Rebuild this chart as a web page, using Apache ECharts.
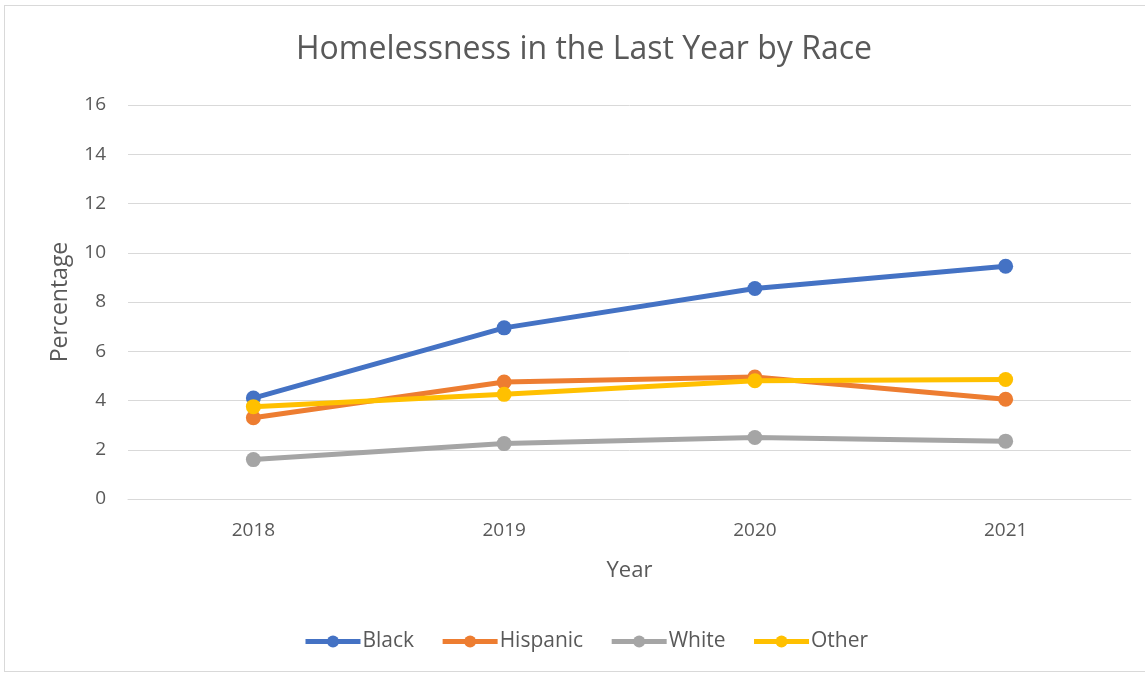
<!DOCTYPE html>
<html>
<head>
<meta charset="utf-8">
<script src="https://cdn.jsdelivr.net/npm/echarts@6/dist/echarts.min.js"></script>
<style>
  html, body { margin: 0; padding: 0; background: #fff; }
  #frame { position: absolute; left: 4px; top: 5px; width: 1150px; height: 667px; border: 1px solid #d9d9d9; box-sizing: border-box; }
  #chart { position: absolute; left: 0; top: 0; width: 1145px; height: 674px; }
</style>
</head>
<body>
<div id="frame"></div>
<div id="chart"></div>
<script>
const years = ['2018', '2019', '2020', '2021'];
const black = [4.1, 6.95, 8.55, 9.45];
const hispanic = [3.3, 4.75, 4.95, 4.05];
const white = [1.6, 2.25, 2.5, 2.35];
const other = [3.75, 4.25, 4.8, 4.85];
const yTicks = [0, 2, 4, 6, 8, 10, 12, 14, 16];

const font = 'Open Sans';
const txt = '#595959';

const chart = echarts.init(document.getElementById('chart'));

const mk = (name, data, color) => ({
  name: name,
  type: 'line',
  data: data,
  symbol: 'circle',
  symbolSize: 15,
  color: color,
  lineStyle: { width: 5, color: color },
  itemStyle: { color: color },
  emphasis: { disabled: true }
});

chart.setOption({
  animation: false,
  textStyle: { fontFamily: font },
  title: {
    text: 'Homelessness in the Last Year by Race',
    left: 291,
    top: 29,
    textStyle: { fontFamily: font, fontSize: 32, fontWeight: 'normal', color: txt }
  },
  legend: {
    bottom: 17,
    left: 298,
    itemWidth: 55,
    itemHeight: 15,
    itemGap: 26,
    lineStyle: { width: 5 },
    textStyle: { fontFamily: font, fontSize: 21, color: txt, padding: [0, 0, 0, -3] },
    data: ['Black', 'Hispanic', 'White', 'Other']
  },
  grid: { left: 128, right: 14, top: 105, bottom: 175 },
  xAxis: {
    type: 'category',
    data: years,
    boundaryGap: true,
    name: 'Year',
    nameLocation: 'middle',
    nameGap: 61,
    nameTextStyle: { fontFamily: font, fontSize: 22, color: txt },
    axisLine: { lineStyle: { color: '#d9d9d9', width: 1 } },
    axisTick: { show: false },
    axisLabel: { fontFamily: font, fontSize: 19, color: txt, margin: 22 }
  },
  yAxis: {
    type: 'value',
    min: yTicks[0],
    max: yTicks[yTicks.length - 1],
    interval: 2,
    name: 'Percentage',
    nameLocation: 'middle',
    nameGap: 56,
    nameTextStyle: { fontFamily: font, fontSize: 23, color: txt },
    axisLine: { show: false },
    axisTick: { show: false },
    axisLabel: { fontFamily: font, fontSize: 19, color: txt, margin: 22 },
    splitLine: { lineStyle: { color: '#d9d9d9', width: 1 } }
  },
  series: [
    mk('Black', black, '#4472C4'),
    mk('Hispanic', hispanic, '#ED7D31'),
    mk('White', white, '#A5A5A5'),
    mk('Other', other, '#FFC000')
  ]
});
</script>
</body>
</html>
